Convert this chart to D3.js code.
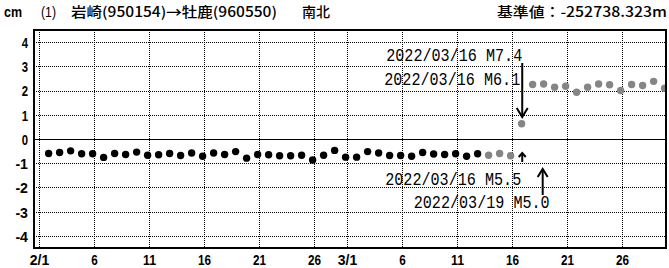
<!DOCTYPE html>
<html><head><meta charset="utf-8">
<script src="https://cdn.jsdelivr.net/npm/d3@7"></script>
<style>
html,body{margin:0;padding:0;background:#fff;}
svg{display:block;}
</style></head>
<body>
<script>
// ---- data ----
const dayLabels = ["2/1","2/2","2/3","2/4","2/5","2/6","2/7","2/8","2/9","2/10","2/11","2/12","2/13","2/14","2/15","2/16","2/17","2/18","2/19","2/20","2/21","2/22","2/23","2/24","2/25","2/26","2/27","2/28",
"3/1","3/2","3/3","3/4","3/5","3/6","3/7","3/8","3/9","3/10","3/11","3/12","3/13","3/14","3/15","3/16","3/17","3/18","3/19","3/20","3/21","3/22","3/23","3/24","3/25","3/26","3/27","3/28"];
// final solutions (black), 2/1 - 3/12
const finalValues = [-0.60,-0.56,-0.49,-0.61,-0.61,-0.76,-0.60,-0.64,-0.54,-0.67,-0.65,-0.60,-0.68,-0.58,-0.71,-0.58,-0.64,-0.52,-0.79,-0.64,-0.65,-0.69,
-0.69,-0.67,-0.87,-0.67,-0.47,-0.75,-0.75,-0.52,-0.58,-0.68,-0.68,-0.71,-0.56,-0.62,-0.64,-0.61,-0.71,-0.61];
// rapid solutions (gray), 3/13 - 3/28
const rapidValues = [-0.67,-0.60,-0.69,0.63,2.25,2.27,2.14,2.18,1.93,2.14,2.27,2.24,2.00,2.25,2.21,2.38,2.10];
const xTickDays = [0,5,10,15,20,25,28,33,38,43,48,53];
const xTickLabels = ["2/1","6","11","16","21","26","3/1","6","11","16","21","26"];
const yTicks = [4,3,2,1,0,-1,-2,-3,-4];
const yTickLabels = ["4","3","2","1","0","-1","-2","-3","-4"];
const eventLabels = ["2022/03/16 M7.4","2022/03/16 M6.1","2022/03/16 M5.5","2022/03/19 M5.0"];
const eventDays = [43.93,43.93,43.93,45.79];
const titleUnit = "cm";
const titleNo = "(1)";
const titleStations = "岩崎(950154)→牡鹿(960550)";
const titleComp = "南北";
const titleRef = "基準値：-252738.323m";

// ---- layout ----
const W = 669, H = 268;
const L = 34, R = 666, T = 30, B = 248;
const svg = d3.select("body").append("svg").attr("width", W).attr("height", H);
const x = d3.scaleLinear().domain([-5/11, 57]).range([L, R]);
const y = d3.scaleLinear().domain([-4.5, 4.5]).range([B, T]);
const obsOffset = 0.875; // 21:00 JST daily solution
const px = v => Math.round(v) + 0.5;

const defs = svg.append("defs");
defs.append("clipPath").attr("id","clip").append("rect")
  .attr("x", L).attr("y", T).attr("width", R-L).attr("height", B-T);

// grid
const grid = svg.append("g").attr("shape-rendering", "crispEdges");
grid.selectAll("line.v").data(xTickDays).join("line")
  .attr("x1", d => px(x(d))).attr("x2", d => px(x(d))).attr("y1", T).attr("y2", B)
  .attr("stroke", "#000").attr("stroke-width", 1).attr("stroke-dasharray", "1,1");
grid.selectAll("line.h").data(yTicks.filter(v => v !== 0)).join("line")
  .attr("x1", L).attr("x2", R).attr("y1", d => px(y(d))).attr("y2", d => px(y(d)))
  .attr("stroke", "#000").attr("stroke-width", 1).attr("stroke-dasharray", "1,1");
svg.append("line").attr("x1", L).attr("x2", R).attr("y1", px(y(0))).attr("y2", px(y(0)))
  .attr("stroke", "#000").attr("stroke-width", 1).attr("shape-rendering", "crispEdges");

// points
const pts = svg.append("g").attr("clip-path", "url(#clip)");
const finalData = finalValues.map((v, i) => ({day: i, v}));
const rapidData = rapidValues.map((v, i) => ({day: i + finalValues.length, v}));
pts.selectAll("circle.f").data(finalData).join("circle")
  .attr("cx", d => x(d.day + obsOffset)).attr("cy", d => y(d.v)).attr("r", 3.7).attr("fill", "#000");
pts.selectAll("circle.r").data(rapidData).join("circle")
  .attr("cx", d => x(d.day + obsOffset)).attr("cy", d => y(d.v)).attr("r", 3.7).attr("fill", "#858585");

// frame
svg.append("rect").attr("x", L).attr("y", T).attr("width", R-L).attr("height", B-T)
  .attr("fill", "none").attr("stroke", "#000").attr("stroke-width", 2).attr("shape-rendering", "crispEdges");

// axes labels
const lf = "'Liberation Sans', Arial, sans-serif";
const yAxis = d3.axisLeft(y).tickValues(yTicks).tickFormat((d,i) => yTickLabels[i]).tickSize(0).tickPadding(0);
const gy = svg.append("g").attr("transform", `translate(${L-6},0)`).call(yAxis);
gy.select(".domain").remove();
gy.selectAll("text").attr("font-family", lf).attr("font-weight", "bold")
  .attr("font-size", 15).attr("fill", "#000").attr("dy", "0.36em")
  .attr("textLength", function(){ return this.textContent.length * 6.3; })
  .attr("lengthAdjust", "spacingAndGlyphs");

const xAxis = d3.axisBottom(x).tickValues(xTickDays).tickFormat((d,i) => xTickLabels[i]).tickSize(0).tickPadding(0);
const gx = svg.append("g").attr("transform", `translate(0,${B})`).call(xAxis);
gx.select(".domain").remove();
gx.selectAll("text").attr("font-family", lf).attr("font-weight", "bold")
  .attr("font-size", 15).attr("fill", "#000").attr("dy", null).attr("y", 17)
  .attr("textLength", function(){ return this.textContent.length * 6.5; })
  .attr("lengthAdjust", "spacingAndGlyphs");

// title
const tf = "'Noto Sans CJK JP', sans-serif";
svg.append("text").attr("x", 4).attr("y", 17).attr("font-family", lf)
  .attr("font-weight", "bold").attr("font-size", 14).attr("textLength", 18).attr("lengthAdjust","spacingAndGlyphs").text(titleUnit);
svg.append("text").attr("x", 41).attr("y", 17).attr("font-family", lf).attr("font-size", 14)
  .attr("textLength", 15).attr("lengthAdjust","spacingAndGlyphs").text(titleNo);
svg.append("text").attr("x", 71).attr("y", 17).attr("font-family", tf).attr("font-size", 14).attr("font-weight", 500)
  .attr("textLength", 206).attr("lengthAdjust","spacingAndGlyphs").text(titleStations);
svg.append("text").attr("x", 302).attr("y", 17).attr("font-family", tf).attr("font-size", 14).attr("font-weight", 500)
  .attr("textLength", 28).attr("lengthAdjust","spacingAndGlyphs").text(titleComp);
svg.append("text").attr("x", 497).attr("y", 17).attr("font-family", tf).attr("font-size", 14).attr("font-weight", 500)
  .attr("textLength", 170).attr("lengthAdjust","spacingAndGlyphs").text(titleRef);

// annotations
const af = "'Liberation Mono', 'DejaVu Sans Mono', monospace";
const ann = svg.append("g");
const annPos = [
  {dx: -136, y: 61},
  {dx: -138, y: 85},
  {dx: -137, y: 185},
  {dx: -129, y: 208}
];
eventLabels.forEach((t, i) => {
  ann.append("text").attr("x", x(eventDays[i]) + annPos[i].dx).attr("y", annPos[i].y)
    .attr("font-family", af).attr("font-size", 18).attr("fill", "#000")
    .attr("textLength", 136).attr("lengthAdjust", "spacingAndGlyphs").text(t);
});
function arrow(xp, y0, y1, hw, hh) {
  const dir = y1 > y0 ? 1 : -1;
  ann.append("line").attr("x1", xp).attr("x2", xp).attr("y1", y0).attr("y2", y1 - dir*0.5)
    .attr("stroke", "#000").attr("stroke-width", 2);
  ann.append("path").attr("d", `M${xp-hw},${y1 - dir*hh} L${xp},${y1} L${xp+hw},${y1 - dir*hh}`)
    .attr("fill", "none").attr("stroke", "#000").attr("stroke-width", 2);
}
arrow(x(eventDays[0]), 63, 117, 5.5, 9);
arrow(x(eventDays[2]), 162, 153, 3.5, 4);
arrow(x(eventDays[3]), 195, 169, 5, 8);
</script>
</body></html>
